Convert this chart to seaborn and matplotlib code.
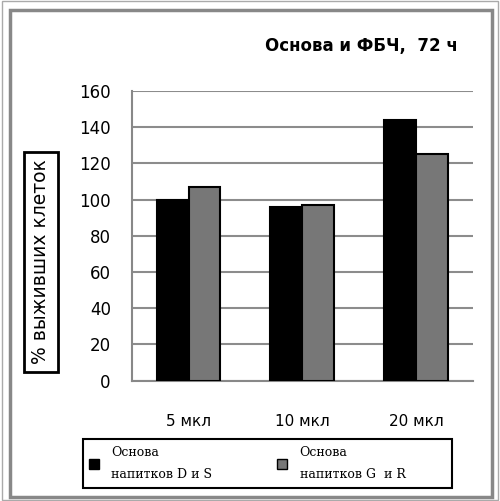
import matplotlib
matplotlib.use("Agg")
import matplotlib.pyplot as plt
import seaborn as sns
import pandas as pd
from matplotlib.patches import Rectangle, Patch

sns.set_style("white")
plt.rcParams['font.family'] = ['DejaVu Sans']
plt.rcParams['text.color'] = 'black'
plt.rcParams['xtick.color'] = 'black'
plt.rcParams['ytick.color'] = 'black'

categories = ["5 мкл", "10 мкл", "20 мкл"]
series_names = ["Основа\nнапитков D и S", "Основа\nнапитков G  и R"]
values_ds = [100, 96, 144]
values_gr = [107, 97, 125]
yticks = [0, 20, 40, 60, 80, 100, 120, 140, 160]
colors = ["#000000", "#777777"]

df = pd.DataFrame({
    "cat": categories * 2,
    "series": [series_names[0]] * 3 + [series_names[1]] * 3,
    "val": values_ds + values_gr,
})

fig = plt.figure(figsize=(5.0, 5.01), dpi=100)
ax = fig.add_axes([0.2634, 0.2401, 0.946 - 0.2634, 0.8184 - 0.2401])

sns.barplot(data=df, x="cat", y="val", hue="series", palette=colors,
            width=0.56, edgecolor="black", linewidth=1.5, ax=ax, legend=False,
            zorder=3)

ax.set_ylim(0, 160)
ax.set_yticks(yticks)
ax.set_xlim(-0.5, 2.5)
ax.yaxis.grid(True, color="#8c8c8c", linewidth=1.5, zorder=0)
ax.set_axisbelow(True)
for s in ["top", "right"]:
    ax.spines[s].set_visible(False)
for s in ["left", "bottom"]:
    ax.spines[s].set_color("#888888")
    ax.spines[s].set_linewidth(1.5)
ax.tick_params(axis="y", length=6, color="#888888", width=1.5, labelsize=12,
               pad=9, labelcolor="black")
ax.tick_params(axis="x", which="major", length=0, labelsize=11, pad=24,
               labelcolor="black")
ax.set_xticks([-0.5, 0.5, 1.5, 2.5], minor=True)
ax.tick_params(axis="x", which="minor", length=5, color="#888888", width=1.5)
ax.set_xlabel("")
ax.set_ylabel("")

# y label with box
fig.text(41 / 500, 1 - 262 / 501, "% выживших клеток", rotation=90,
         ha="center", va="center", fontsize=13.5, color="black",
         bbox=dict(boxstyle="square,pad=0.4", facecolor="white",
                   edgecolor="black", linewidth=2))

# title
fig.text(0.723, 1 - 46 / 501, "Основа и ФБЧ,  72 ч", ha="center", va="center",
         fontsize=12, fontweight="bold", color="black")

# legend frame
fig.patches.append(Rectangle((83 / 500, 1 - 488 / 501), 369 / 500, 49 / 501,
                             transform=fig.transFigure, fill=False,
                             edgecolor="black", linewidth=1.5))
# legend
handles = [Patch(facecolor=c, edgecolor="black", linewidth=1) for c in colors]
leg = fig.legend(handles, series_names, loc="center left", ncol=2,
                 bbox_to_anchor=(85 / 500, 1 - 463.5 / 501),
                 frameon=False, handlelength=0.8,
                 handleheight=0.9, borderpad=0.3, borderaxespad=0,
                 handletextpad=1.0, columnspacing=5.2,
                 prop={"family": "DejaVu Serif", "size": 9})
for t in leg.get_texts():
    t.set_linespacing(2.0)

# outer frame
fig.patches.append(Rectangle((10 / 500, 1 - 497 / 501), 482 / 500, 487 / 501,
                             transform=fig.transFigure, fill=False,
                             edgecolor="#888888", linewidth=2.5))
fig.patches.append(Rectangle((2 / 500, 0.002), 496 / 500, 0.996,
                             transform=fig.transFigure, fill=False,
                             edgecolor="#aaaaaa", linewidth=1))

fig.savefig("out.png", dpi=100)
